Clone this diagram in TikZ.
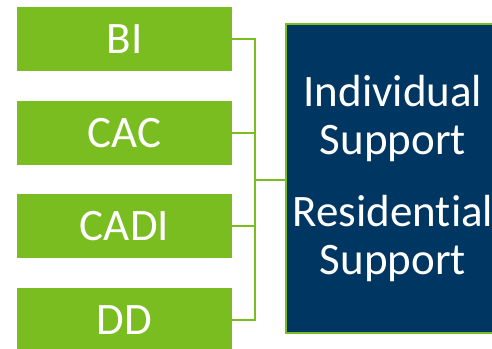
\documentclass[tikz,border=0pt]{standalone}
\usepackage{xcolor}
\usepackage{fontspec}
\setmainfont{Carlito}[Ligatures=NoCommon]
\usepackage{tikz}
\usetikzlibrary{calc,positioning}
\definecolor{programGreen}{RGB}{122, 189, 33}
\definecolor{supportBlue}{RGB}{0, 55, 98}
\definecolor{labelWhite}{RGB}{255, 255, 255}

\tikzset{
    programBox/.style={rectangle, fill=programGreen, minimum width=215pt, minimum height=64pt,
        inner sep=0pt, text=labelWhite, font=\fontsize{45}{48}\selectfont},
    supportBox/.style={rectangle, fill=supportBlue, draw=programGreen, line width=1.5pt,
        minimum width=214pt, minimum height=309pt, inner sep=0pt, align=center,
        text=labelWhite, font=\fontsize{45}{48.5}\selectfont},
    link/.style={draw=programGreen, line width=1.5pt}
}

\begin{document}
\begin{tikzpicture}[x=1pt, y=-1pt]
            % Page frame
            \clip (0,0) rectangle (492,348);

            % Programs on the left
            \node[programBox] (bi) at (124.5,39) {BI};
            \node[programBox] (cac) at (124.5,133) {CAC};
            \node[programBox] (cadi) at (124.5,226) {CADI};
            \node[programBox] (dd) at (124.5,320) {DD};

            % Support box
            \node[supportBox] (support) at (393,178.5) {Individual\\Support\\[23pt]Residential\\Support};

            % Bracket
            \coordinate (bus) at (255,180);
            \draw[link] (bi.east) -| (bus);
            \draw[link] (cac.east) -| (bus);
            \draw[link] (cadi.east) -| (bus);
            \draw[link] (dd.east) -| (bus);
            \draw[link] (bus) -- (bus -| support.west);
        \end{tikzpicture}
\end{document}
